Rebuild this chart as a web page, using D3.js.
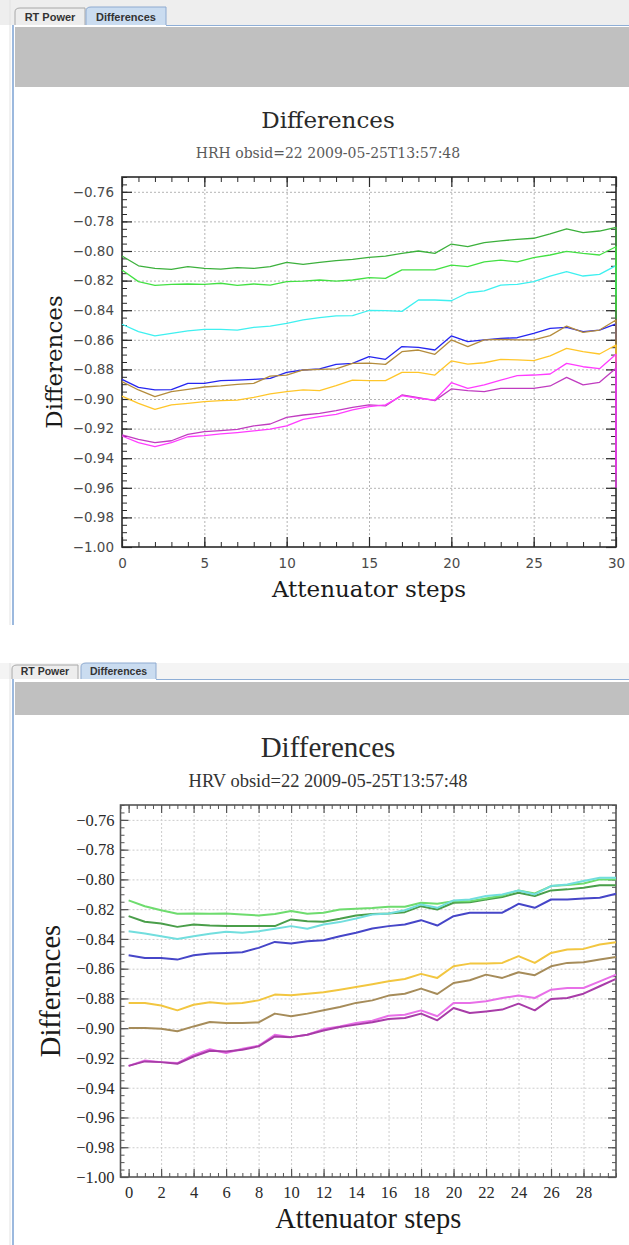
<!DOCTYPE html>
<html>
<head>
<meta charset="utf-8">
<script src="https://cdn.jsdelivr.net/npm/d3@7"></script>
<style>
  body { margin: 0; background: #fff; }
  svg { display: block; }
</style>
</head>
<body>
<div id="chart"></div>
<script>
var width = 629, height = 1245;
var svg = d3.select("#chart").append("svg").attr("width", width).attr("height", height);

// ---- data ----
var steps = d3.range(0, 31);
var yTickValues = [-1.00, -0.98, -0.96, -0.94, -0.92, -0.90, -0.88, -0.86, -0.84, -0.82, -0.80, -0.78, -0.76];
var hrhXTicks = [0, 5, 10, 15, 20, 25, 30];
var hrvXTicks = [0, 2, 4, 6, 8, 10, 12, 14, 16, 18, 20, 22, 24, 26, 28];

// HRH (top panel)
var hrhGreenDark = [-0.8034, -0.8100, -0.8117, -0.8124, -0.8106, -0.8117, -0.8122, -0.8113, -0.8117, -0.8106, -0.8077, -0.8090, -0.8077, -0.8065, -0.8056, -0.8043, -0.8034, -0.8016, -0.8000, -0.8016, -0.7953, -0.7971, -0.7944, -0.7932, -0.7921, -0.7914, -0.7885, -0.7851, -0.7876, -0.7865, -0.7840];
var hrhGreenLight = [-0.8128, -0.8207, -0.8232, -0.8225, -0.8223, -0.8225, -0.8218, -0.8232, -0.8223, -0.8230, -0.8207, -0.8203, -0.8196, -0.8203, -0.8196, -0.8180, -0.8185, -0.8128, -0.8128, -0.8128, -0.8095, -0.8106, -0.8074, -0.8061, -0.8074, -0.8045, -0.8027, -0.8002, -0.8016, -0.8027, -0.7971];
var hrhCyan = [-0.8495, -0.8545, -0.8574, -0.8556, -0.8540, -0.8529, -0.8529, -0.8534, -0.8516, -0.8507, -0.8489, -0.8466, -0.8450, -0.8439, -0.8437, -0.8402, -0.8403, -0.8408, -0.8331, -0.8331, -0.8336, -0.8282, -0.8270, -0.8230, -0.8225, -0.8207, -0.8169, -0.8140, -0.8169, -0.8158, -0.8099];
var hrhBlue = [-0.8867, -0.8921, -0.8939, -0.8937, -0.8894, -0.8894, -0.8876, -0.8872, -0.8867, -0.8860, -0.8820, -0.8804, -0.8797, -0.8766, -0.8759, -0.8714, -0.8732, -0.8646, -0.8651, -0.8669, -0.8574, -0.8613, -0.8601, -0.8590, -0.8586, -0.8556, -0.8523, -0.8516, -0.8545, -0.8534, -0.8493];
var hrhBrown = [-0.8883, -0.8939, -0.8984, -0.8950, -0.8935, -0.8919, -0.8912, -0.8901, -0.8894, -0.8845, -0.8838, -0.8804, -0.8800, -0.8797, -0.8759, -0.8757, -0.8766, -0.8680, -0.8669, -0.8698, -0.8601, -0.8646, -0.8601, -0.8597, -0.8601, -0.8601, -0.8572, -0.8507, -0.8550, -0.8534, -0.8466];
var hrhYellow = [-0.8980, -0.9029, -0.9070, -0.9040, -0.9029, -0.9018, -0.9011, -0.9007, -0.8989, -0.8966, -0.8950, -0.8939, -0.8944, -0.8910, -0.8872, -0.8876, -0.8876, -0.8820, -0.8820, -0.8838, -0.8743, -0.8764, -0.8755, -0.8732, -0.8736, -0.8741, -0.8709, -0.8658, -0.8680, -0.8696, -0.8635];
var hrhMagenta = [-0.9243, -0.9273, -0.9295, -0.9282, -0.9239, -0.9221, -0.9214, -0.9205, -0.9182, -0.9169, -0.9124, -0.9108, -0.9097, -0.9079, -0.9056, -0.9040, -0.9047, -0.8973, -0.8991, -0.9011, -0.8932, -0.8944, -0.8950, -0.8928, -0.8928, -0.8928, -0.8912, -0.8854, -0.8905, -0.8887, -0.8793];
var hrhPink = [-0.9250, -0.9295, -0.9322, -0.9295, -0.9255, -0.9248, -0.9236, -0.9227, -0.9216, -0.9203, -0.9182, -0.9137, -0.9119, -0.9104, -0.9074, -0.9052, -0.9040, -0.8977, -0.8995, -0.9007, -0.8890, -0.8928, -0.8905, -0.8872, -0.8842, -0.8838, -0.8831, -0.8759, -0.8782, -0.8795, -0.8698];
// last sample at step 30 falls away
var hrhDrop = {greenDark: -0.846, greenLight: -0.840, cyan: -0.830, blue: -0.860, brown: -0.880, yellow: -0.875, magenta: -0.950, pink: -0.960};

// HRV (bottom panel)
var hrvGreenLight = [-0.8141, -0.8180, -0.8207, -0.8231, -0.8229, -0.8231, -0.8229, -0.8236, -0.8242, -0.8233, -0.8213, -0.8231, -0.8224, -0.8202, -0.8198, -0.8193, -0.8184, -0.8184, -0.8157, -0.8164, -0.8146, -0.8146, -0.8128, -0.8108, -0.8074, -0.8094, -0.8045, -0.8038, -0.8027, -0.8000, -0.8000];
var hrvGreenDark = [-0.8247, -0.8285, -0.8296, -0.8319, -0.8303, -0.8310, -0.8314, -0.8314, -0.8314, -0.8314, -0.8269, -0.8281, -0.8285, -0.8265, -0.8242, -0.8233, -0.8229, -0.8220, -0.8180, -0.8202, -0.8157, -0.8153, -0.8135, -0.8119, -0.8090, -0.8112, -0.8074, -0.8067, -0.8056, -0.8040, -0.8040];
var hrvCyan = [-0.8348, -0.8364, -0.8382, -0.8400, -0.8382, -0.8366, -0.8352, -0.8359, -0.8348, -0.8332, -0.8314, -0.8332, -0.8303, -0.8287, -0.8263, -0.8236, -0.8229, -0.8207, -0.8168, -0.8191, -0.8141, -0.8135, -0.8112, -0.8101, -0.8074, -0.8101, -0.8045, -0.8034, -0.8011, -0.7989, -0.7989];
var hrvBlue = [-0.8510, -0.8528, -0.8528, -0.8539, -0.8510, -0.8498, -0.8494, -0.8489, -0.8460, -0.8420, -0.8431, -0.8415, -0.8409, -0.8382, -0.8359, -0.8330, -0.8314, -0.8303, -0.8274, -0.8310, -0.8247, -0.8224, -0.8224, -0.8224, -0.8164, -0.8191, -0.8135, -0.8135, -0.8128, -0.8123, -0.8097];
var hrvYellow = [-0.8830, -0.8830, -0.8848, -0.8880, -0.8842, -0.8826, -0.8835, -0.8830, -0.8813, -0.8774, -0.8779, -0.8768, -0.8759, -0.8741, -0.8723, -0.8705, -0.8685, -0.8669, -0.8635, -0.8662, -0.8584, -0.8566, -0.8566, -0.8561, -0.8516, -0.8561, -0.8494, -0.8471, -0.8467, -0.8438, -0.8422];
var hrvBrown = [-0.8999, -0.8999, -0.9003, -0.9021, -0.8988, -0.8958, -0.8965, -0.8965, -0.8961, -0.8902, -0.8920, -0.8902, -0.8880, -0.8857, -0.8830, -0.8813, -0.8781, -0.8768, -0.8734, -0.8770, -0.8696, -0.8678, -0.8640, -0.8662, -0.8624, -0.8644, -0.8584, -0.8561, -0.8557, -0.8539, -0.8521];
var hrvMagenta = [-0.9253, -0.9223, -0.9228, -0.9239, -0.9190, -0.9152, -0.9156, -0.9145, -0.9122, -0.9055, -0.9060, -0.9044, -0.9015, -0.8992, -0.8976, -0.8960, -0.8938, -0.8932, -0.8902, -0.8947, -0.8864, -0.8898, -0.8887, -0.8875, -0.8835, -0.8880, -0.8804, -0.8797, -0.8768, -0.8718, -0.8669];
var hrvPink = [-0.9253, -0.9217, -0.9228, -0.9234, -0.9179, -0.9141, -0.9167, -0.9138, -0.9118, -0.9044, -0.9060, -0.9044, -0.9006, -0.8988, -0.8965, -0.8950, -0.8916, -0.8909, -0.8880, -0.8920, -0.8831, -0.8831, -0.8819, -0.8797, -0.8781, -0.8797, -0.8741, -0.8730, -0.8730, -0.8685, -0.8640];

// ---- series tables (draw order) ----
var hrhSeries = [
  {key: "cyan", values: hrhCyan, color: "#3ff0f0"},
  {key: "blue", values: hrhBlue, color: "#2626f0"},
  {key: "brown", values: hrhBrown, color: "#b48c3c"},
  {key: "yellow", values: hrhYellow, color: "#ffc62a"},
  {key: "greenDark", values: hrhGreenDark, color: "#3cb03c"},
  {key: "greenLight", values: hrhGreenLight, color: "#44e044"},
  {key: "magenta", values: hrhMagenta, color: "#c03cc0"},
  {key: "pink", values: hrhPink, color: "#ff3cff"}
];
hrhSeries.forEach(function(s) {
  s.points = steps.map(function(st, i) { return [st, s.values[i]]; });
  s.points.push([30, hrhDrop[s.key]]);
});

var hrvSeries = [
  {values: hrvGreenDark, color: "#4a9e4a"},
  {values: hrvGreenLight, color: "#6edc6e"},
  {values: hrvCyan, color: "#72dede"},
  {values: hrvBlue, color: "#4646c8"},
  {values: hrvBrown, color: "#a68c5a"},
  {values: hrvYellow, color: "#f2c640"},
  {values: hrvPink, color: "#e870e8"},
  {values: hrvMagenta, color: "#a83ca8"}
];
hrvSeries.forEach(function(s) {
  s.points = steps.map(function(st, i) { return [st, s.values[i]]; });
});

// ---- window chrome ----
function drawChrome(c) {
  var g = svg.append("g");
  g.append("rect").attr("x", 0).attr("y", c.barTop).attr("width", width).attr("height", c.barBottom - c.barTop)
    .style("fill", c.barFill);
  // tabs
  g.append("path")
    .attr("d", "M" + c.tab1[0] + "," + c.barBottom + "V" + (c.tab1Top + 4) + "Q" + c.tab1[0] + "," + c.tab1Top + " " + (c.tab1[0] + 5) + "," + c.tab1Top + "H" + c.tab1[1] + "V" + c.barBottom)
    .style("fill", "#ededed").style("stroke", "#a8a8a8");
  g.append("path")
    .attr("d", "M" + c.tab2[0] + "," + c.barBottom + "V" + (c.tab2Top + 4) + "Q" + c.tab2[0] + "," + c.tab2Top + " " + (c.tab2[0] + 5) + "," + c.tab2Top + "H" + c.tab2[1] + "V" + c.barBottom)
    .style("fill", "#cadcf0").style("stroke", "#8eaad0");
  g.append("text").attr("x", (c.tab1[0] + c.tab1[1]) / 2).attr("y", c.barBottom - 4.5)
    .attr("text-anchor", "middle").style("font", "bold " + c.tabFont + "px 'Liberation Sans', sans-serif").style("fill", "#333")
    .text("RT Power");
  g.append("text").attr("x", (c.tab2[0] + c.tab2[1]) / 2).attr("y", c.barBottom - 4.5)
    .attr("text-anchor", "middle").style("font", "bold " + c.tabFont + "px 'Liberation Sans', sans-serif").style("fill", "#333")
    .text("Differences");
  g.append("line").attr("x1", c.tab2[1]).attr("x2", width).attr("y1", c.barBottom + 0.5).attr("y2", c.barBottom + 0.5)
    .style("stroke", "#8eaed6");
  g.append("rect").attr("x", c.left + 2).attr("y", c.bandTop).attr("width", width - c.left - 2).attr("height", c.bandBottom - c.bandTop)
    .style("fill", "#c0c0c0");
  g.append("line").attr("x1", c.left - 3).attr("x2", c.left - 3).attr("y1", c.barTop).attr("y2", c.panelBottom)
    .style("stroke", "#e2e2e2");
  g.append("line").attr("x1", c.left).attr("x2", c.left).attr("y1", c.barBottom).attr("y2", c.panelBottom)
    .style("stroke", "#9cb9de").style("stroke-width", 2);
}

drawChrome({barTop: 0, barBottom: 25, barFill: "#eeeeee", tab1: [15, 85], tab1Top: 8, tab2: [86, 166], tab2Top: 7,
  tabFont: 11, left: 13, bandTop: 27, bandBottom: 87, panelBottom: 625});
drawChrome({barTop: 663, barBottom: 679, barFill: "#f4f4f4", tab1: [12, 78], tab1Top: 665, tab2: [81, 156], tab2Top: 663,
  tabFont: 10.5, left: 13, bandTop: 682, bandBottom: 715, panelBottom: 1245});

// ---- charts ----
function drawChart(p) {
  var g = svg.append("g");
  var x = d3.scaleLinear().domain(p.xDomain).range([p.left, p.right]);
  var y = d3.scaleLinear().domain([-1.0, -0.75]).range([p.bottom, p.top]);
  var pw = p.right - p.left, ph = p.bottom - p.top;

  // dotted grid
  g.append("g").attr("transform", "translate(0," + p.bottom + ")")
    .call(d3.axisBottom(x).tickValues(p.xGrid).tickSize(-ph).tickSizeOuter(0).tickFormat(""))
    .call(function(a) { a.select(".domain").remove(); })
    .selectAll("line").style("stroke", p.gridColor).style("stroke-dasharray", "2,2");
  g.append("g").attr("transform", "translate(" + p.left + ",0)")
    .call(d3.axisLeft(y).tickValues(yTickValues.slice(1)).tickSize(-pw).tickSizeOuter(0).tickFormat(""))
    .call(function(a) { a.select(".domain").remove(); })
    .selectAll("line").style("stroke", p.gridColor).style("stroke-dasharray", "2,2");

  // frame
  g.append("rect").attr("x", p.left).attr("y", p.top).attr("width", pw).attr("height", ph)
    .style("fill", "none").style("stroke", p.axisColor).style("stroke-width", 1.6);

  // inward ticks on all four sides
  var yMinor = d3.range(0, 51).map(function(i) { return -1 + i * 0.005; });
  var sides = [
    {axis: d3.axisBottom, t: "translate(0," + p.bottom + ")", s: x, major: p.xTicks, minor: p.xMinor, labels: true},
    {axis: d3.axisTop, t: "translate(0," + p.top + ")", s: x, major: p.xTicks, minor: p.xMinor, labels: false},
    {axis: d3.axisLeft, t: "translate(" + p.left + ",0)", s: y, major: yTickValues, minor: yMinor, labels: true},
    {axis: d3.axisRight, t: "translate(" + p.right + ",0)", s: y, major: yTickValues, minor: yMinor, labels: false}
  ];
  sides.forEach(function(sd) {
    var isX = sd.s === x;
    g.append("g").attr("transform", sd.t)
      .call(sd.axis(sd.s).tickValues(sd.minor).tickSize(-p.minorLen).tickSizeOuter(0).tickFormat(""))
      .call(function(a) { a.select(".domain").remove(); })
      .selectAll("line").style("stroke", p.axisColor);
    var ax = g.append("g").attr("transform", sd.t)
      .call(sd.axis(sd.s).tickValues(sd.major).tickSize(-p.majorLen).tickSizeOuter(0)
        .tickPadding(isX ? p.xPad : p.yPad)
        .tickFormat(sd.labels ? (isX ? d3.format("d") : d3.format(".2f")) : ""));
    ax.select(".domain").remove();
    ax.selectAll("line").style("stroke", p.axisColor).style("stroke-width", 1.2);
    ax.selectAll("text").style("font-family", p.tickFont).style("font-size", p.tickSize + "px").style("fill", p.tickColor);
  });

  // series
  var clipId = "clip" + p.id;
  g.append("clipPath").attr("id", clipId).append("rect")
    .attr("x", p.left - 1).attr("y", p.top).attr("width", pw + 2).attr("height", ph);
  var line = d3.line().x(function(d) { return x(d[0]); }).y(function(d) { return y(d[1]); });
  g.append("g").attr("clip-path", "url(#" + clipId + ")")
    .selectAll("path").data(p.series).join("path")
    .attr("d", function(d) { return line(d.points); })
    .style("fill", "none").style("stroke", function(d) { return d.color; })
    .style("stroke-width", p.lineWidth).style("stroke-linejoin", "round");

  // texts
  g.append("text").attr("x", p.titleX).attr("y", p.titleY).attr("text-anchor", "middle")
    .style("font-family", p.titleFont).style("font-size", p.titleSize + "px").style("fill", "#2a2a2a")
    .text("Differences");
  g.append("text").attr("x", p.titleX).attr("y", p.subY).attr("text-anchor", "middle")
    .style("font-family", p.titleFont).style("font-size", p.subSize + "px").style("fill", p.subColor)
    .text(p.subtitle);
  g.append("text").attr("x", (p.left + p.right) / 2).attr("y", p.xTitleY).attr("text-anchor", "middle")
    .style("font-family", p.titleFont).style("font-size", p.axisTitleSize + "px").style("fill", "#1a1a1a")
    .text("Attenuator steps");
  g.append("text").attr("transform", "translate(" + p.yTitleX + "," + (p.top + p.bottom) / 2 + ") rotate(-90)")
    .attr("text-anchor", "middle")
    .style("font-family", p.titleFont).style("font-size", p.axisTitleSize + "px").style("fill", "#1a1a1a")
    .text("Differences");
}

drawChart({
  id: "hrh", left: 122, right: 616, top: 177, bottom: 547,
  xDomain: [0, 30], xTicks: hrhXTicks, xMinor: d3.range(0, 31), xGrid: [5, 10, 15, 20, 25],
  series: hrhSeries, lineWidth: 1.3,
  gridColor: "#b4b4b4", axisColor: "#2a2a2a", majorLen: 10, minorLen: 5,
  tickFont: "'DejaVu Sans', sans-serif", tickSize: 13.5, tickColor: "#4a4a4a", xPad: 11, yPad: 8,
  titleFont: "'DejaVu Serif', serif", titleSize: 23, axisTitleSize: 23, subSize: 14, subColor: "#5a5a5a",
  titleX: 328, titleY: 128, subY: 158, xTitleY: 597, yTitleX: 62,
  subtitle: "HRH obsid=22 2009-05-25T13:57:48"
});

drawChart({
  id: "hrv", left: 120.5, right: 616, top: 805, bottom: 1177,
  xDomain: [-0.5, 30], xTicks: hrvXTicks, xMinor: d3.range(-1, 61).map(function(i) { return i * 0.5; }).filter(function(v) { return v <= 30; }),
  xGrid: hrvXTicks.slice(1),
  series: hrvSeries, lineWidth: 2,
  gridColor: "#cccccc", axisColor: "#555555", majorLen: 8, minorLen: 4,
  tickFont: "'Liberation Serif', serif", tickSize: 16.5, tickColor: "#2a2a2a", xPad: 9, yPad: 6,
  titleFont: "'Liberation Serif', serif", titleSize: 29, axisTitleSize: 28.5, subSize: 18.5, subColor: "#333",
  titleX: 328, titleY: 757, subY: 787, xTitleY: 1228, yTitleX: 60,
  subtitle: "HRV obsid=22 2009-05-25T13:57:48"
});
</script>
</body>
</html>
